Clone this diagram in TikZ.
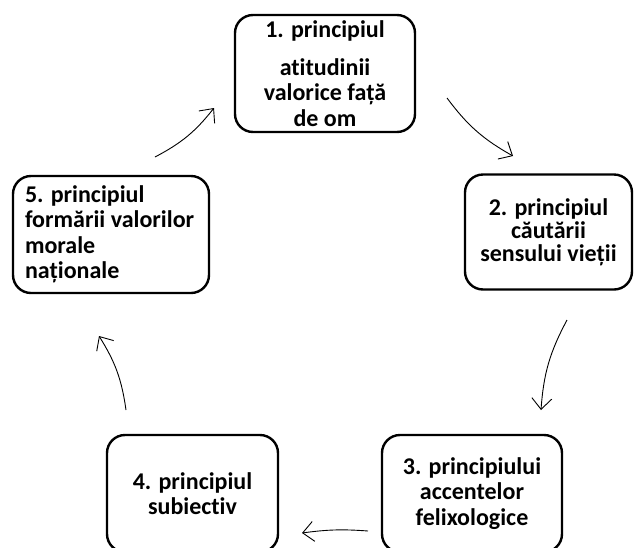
\documentclass[tikz,border=0pt]{standalone}
\usepackage{fontspec}
\setmainfont{Carlito}[Ligatures=CommonOff]
\usetikzlibrary{arrows.meta}
\begin{document}
\begin{tikzpicture}[
        x=1pt, y=-1pt,
        principle/.style={draw, line width=2.4pt, rounded corners=18pt,
          minimum width=180pt, minimum height=117pt, inner sep=0pt,
          align=center, font=\fontsize{24}{25.5}\selectfont\bfseries},
        cycle arrow/.style={-{Straight Barb[length=11pt,width=20pt]}, line width=0.9pt}
      ]
      \useasboundingbox (0,0) rectangle (635,547);
      \node[principle] (p1) at (325,73.5) {1. principiul\\[12pt] atitudinii\\ valorice față\\ de om};
      \node[principle, minimum width=167pt, minimum height=115pt] (p2) at (548.5,232)
        {2. principiul\\[-2.5pt] căutării\\[-2.5pt] sensului vieții};
      \node[principle] (p3) at (472,493.5) {3. principiului\\ accentelor\\ felixologice};
      \node[principle, minimum width=171pt] (p4) at (192.5,493.5) {4. principiul\\ subiectiv};
      \node[principle, text width=172pt, inner xsep=12pt, align=flush left] (p5) at (111,234.5)
        {5. principiul\\ formării valorilor\\ morale\\ naționale};
      % arrow ends
      \coordinate (a1) at (447,98);  \coordinate (a2) at (513,156);
      \coordinate (b1) at (567,320); \coordinate (b2) at (541,410);
      \coordinate (c1) at (368,531); \coordinate (c2) at (302,533);
      \coordinate (d1) at (126,410); \coordinate (d2) at (99,336);
      \coordinate (e1) at (155,157); \coordinate (e2) at (214,108);
      \draw[cycle arrow] (a1) to[bend right=12] (a2);
      \draw[cycle arrow] (b1) to[bend right=12] (b2);
      \draw[cycle arrow] (c1) to[bend right=6] (c2);
      \draw[cycle arrow] (d1) to[bend right=12] (d2);
      \draw[cycle arrow] (e1) to[bend right=12] (e2);
\end{tikzpicture}
\end{document}
